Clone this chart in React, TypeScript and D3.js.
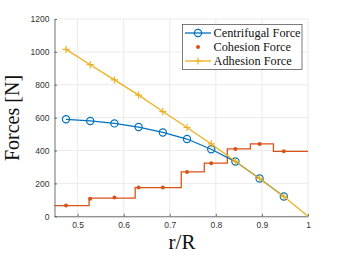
import * as d3 from 'd3'
import { useEffect, useRef } from 'react'

// r/R sample positions
const rR = [0.475, 0.5275, 0.58, 0.6325, 0.685, 0.7375, 0.79, 0.8425, 0.895, 0.9475]
const centrifugal = [590, 580, 565, 543, 510, 470, 408, 333, 230, 120]
const cohesion = [65, 107, 115, 175, 175, 270, 323, 410, 440, 395]
const adhesion = [1015, 922, 830, 737, 637, 540, 440, 335, 230, 120]
// adhesion line runs out to the tip
const adhesionTip = { r: 1, v: 0 }
// cohesion step curve
const stairEdges = [0.45, 0.525, 0.625, 0.725, 0.775, 0.825, 0.875, 0.925, 1.0]
const stairValues = [65, 110, 175, 270, 323, 410, 440, 395]
const xTicks = [0.5, 0.6, 0.7, 0.8, 0.9, 1]
const yTicks = [0, 200, 400, 600, 800, 1000, 1200]

const BLUE = '#0072BD'
const ORANGE = '#D95319'
const YELLOW = '#EDB120'

export default function App() {
  const ref = useRef<SVGSVGElement>(null)

  useEffect(() => {
    drawChart(ref.current)
  }, [])

  return (
    <svg ref={ref} width={341} height={256}
      style={{ position: 'absolute', left: 0, top: 0, background: 'white' }} />
  )
}

const drawChart = (node: any) => {
  const svg = d3.select(node)
  svg.selectAll('*').remove()

  const M = { LEFT: 54.5, RIGHT: 308, TOP: 19, BOTTOM: 216.3 }

  const x = d3.scaleLinear().domain([0.45, 1]).range([M.LEFT, M.RIGHT])
  const y = d3.scaleLinear().domain([0, 1200]).range([M.BOTTOM, M.TOP])

  // grid
  const grid = svg.append('g').attr('stroke', '#e6e6e6').attr('stroke-width', 0.8)
  grid.selectAll('line.gx').data(xTicks).join('line')
    .attr('x1', d => x(d)).attr('x2', d => x(d))
    .attr('y1', M.TOP).attr('y2', M.BOTTOM)
  grid.selectAll('line.gy').data(yTicks).join('line')
    .attr('x1', M.LEFT).attr('x2', M.RIGHT)
    .attr('y1', d => y(d)).attr('y2', d => y(d))

  // axes
  const xAxis = svg.append('g')
    .attr('transform', `translate(0,${M.BOTTOM})`)
    .call(d3.axisBottom(x).tickValues(xTicks).tickSizeInner(-2.5).tickSizeOuter(0)
      .tickPadding(6).tickFormat((d: any) => String(d)))
  const yAxis = svg.append('g')
    .attr('transform', `translate(${M.LEFT},0)`)
    .call(d3.axisLeft(y).tickValues(yTicks).tickSizeInner(-2.5).tickSizeOuter(0)
      .tickPadding(5).tickFormat(d3.format('d')))
  for (const g of [xAxis, yAxis]) {
    g.select('.domain').attr('stroke', '#4d4d4d').attr('stroke-width', 0.8)
    g.selectAll('.tick line').attr('stroke', '#4d4d4d').attr('stroke-width', 0.8)
    g.selectAll('.tick text').attr('fill', '#333')
      .style('font-family', 'Liberation Sans, Arial, sans-serif').style('font-size', '8.5px')
  }

  // cohesion stairs
  const stairPts: [number, number][] = []
  stairValues.forEach((v, i) => {
    stairPts.push([stairEdges[i], v])
    stairPts.push([stairEdges[i + 1], v])
  })
  svg.append('path')
    .attr('d', d3.line<[number, number]>().x(d => x(d[0])).y(d => y(d[1]))(stairPts))
    .attr('fill', 'none').attr('stroke', ORANGE).attr('stroke-width', 1.3)

  // centrifugal
  const line = d3.line<number>().x((d, i) => x(rR[i])).y(d => y(d))
  svg.append('path').attr('d', line(centrifugal))
    .attr('fill', 'none').attr('stroke', BLUE).attr('stroke-width', 1.3)
  svg.selectAll('circle.cf').data(centrifugal).join('circle')
    .attr('cx', (d, i) => x(rR[i])).attr('cy', d => y(d)).attr('r', 3.6)
    .attr('fill', 'none').attr('stroke', BLUE).attr('stroke-width', 1.2)

  // cohesion dots
  svg.selectAll('circle.co').data(cohesion).join('circle')
    .attr('cx', (d, i) => x(rR[i])).attr('cy', d => y(d)).attr('r', 2)
    .attr('fill', ORANGE)

  // adhesion
  const adPts: [number, number][] = adhesion.map((v, i) => [rR[i], v])
  adPts.push([adhesionTip.r, adhesionTip.v])
  svg.append('path')
    .attr('d', d3.line<[number, number]>().x(d => x(d[0])).y(d => y(d[1]))(adPts))
    .attr('fill', 'none').attr('stroke', YELLOW).attr('stroke-width', 1.3)
  const plus = (g: any, cx: number, cy: number, s: number, color: string) => {
    g.append('path')
      .attr('d', `M${cx - s},${cy}H${cx + s}M${cx},${cy - s}V${cy + s}`)
      .attr('stroke', color).attr('stroke-width', 1.2).attr('fill', 'none')
  }
  const plusG = svg.append('g')
  adhesion.forEach((v, i) => plus(plusG, x(rR[i]), y(v), 3.6, YELLOW))

  // legend
  const lg = svg.append('g')
  lg.append('rect').attr('x', 182.5).attr('y', 24.5).attr('width', 119.5).attr('height', 45)
    .attr('fill', 'white').attr('stroke', '#444').attr('stroke-width', 0.7)
  const items = [
    { label: 'Centrifugal Force', color: BLUE, kind: 'circle' },
    { label: 'Cohesion Force', color: ORANGE, kind: 'dot' },
    { label: 'Adhesion Force', color: YELLOW, kind: 'plus' },
  ]
  items.forEach((it, i) => {
    const cy = 33 + i * 14
    const cx = 198
    if (it.kind !== 'dot') {
      lg.append('line').attr('x1', 185).attr('x2', 211).attr('y1', cy).attr('y2', cy)
        .attr('stroke', it.color).attr('stroke-width', 1.3)
    }
    if (it.kind === 'circle') {
      lg.append('circle').attr('cx', cx).attr('cy', cy).attr('r', 3.6)
        .attr('fill', 'none').attr('stroke', it.color).attr('stroke-width', 1.2)
    } else if (it.kind === 'dot') {
      lg.append('circle').attr('cx', cx).attr('cy', cy).attr('r', 2).attr('fill', it.color)
    } else {
      plus(lg, cx, cy, 3.6, it.color)
    }
    lg.append('text').attr('x', 213.5).attr('y', cy + 4).text(it.label)
      .style('font-family', 'Liberation Serif, Times New Roman, serif')
      .style('font-size', '12.3px').attr('fill', '#111')
  })

  // axis labels
  svg.append('text').attr('x', 182).attr('y', 249).attr('text-anchor', 'middle')
    .style('font-family', 'Liberation Serif, serif').style('font-size', '21px')
    .attr('fill', '#111').text('r/R')
  svg.append('text').attr('transform', 'translate(19,118) rotate(-90)')
    .attr('text-anchor', 'middle')
    .style('font-family', 'Liberation Serif, serif').style('font-size', '20px')
    .attr('fill', '#111').text('Forces [N]')
}
